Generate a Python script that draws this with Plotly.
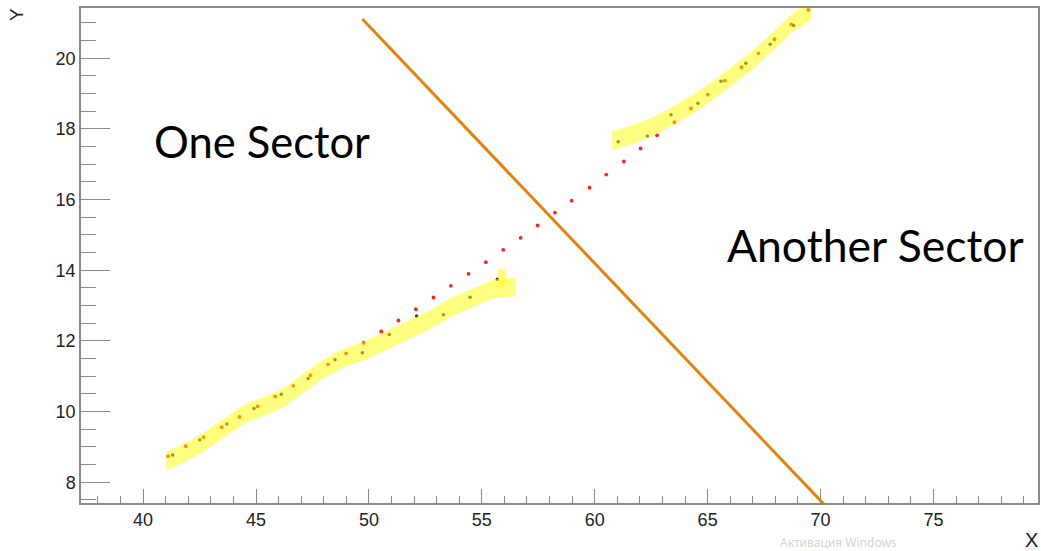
import plotly.graph_objects as go

# Extrapolated track points (red) between the two sectors
track_x = [41.11, 41.89, 42.68, 43.48, 44.27, 45.07, 45.85, 46.65, 47.41, 48.19,
           48.99, 49.77, 50.55, 51.31, 52.08, 52.86, 53.63, 54.41, 55.18, 55.95,
           56.72, 57.47, 58.24, 58.98, 59.77, 60.51, 61.29, 62.03, 62.76, 63.53,
           64.26, 65.01, 65.76, 66.50, 67.25, 67.96, 68.70, 69.46]
track_y = [8.74, 9.02, 9.28, 9.56, 9.85, 10.15, 10.43, 10.73, 11.03, 11.34,
           11.65, 11.95, 12.27, 12.58, 12.90, 13.23, 13.56, 13.90, 14.23, 14.58,
           14.92, 15.27, 15.63, 15.97, 16.34, 16.71, 17.08, 17.45, 17.82, 18.19,
           18.58, 18.97, 19.37, 19.75, 20.14, 20.54, 20.96, 21.37]

# Measured hits (dark)
hit_x = [41.31, 42.51, 43.71, 44.91, 46.12, 47.31, 48.50, 49.71, 50.90, 52.11,
         53.30, 54.48, 55.69, 61.04, 62.33, 63.38, 64.57, 65.59, 66.69, 67.77, 68.81]
hit_y = [8.77, 9.20, 9.65, 10.09, 10.49, 10.94, 11.47, 11.67, 12.18, 12.71,
         12.74, 13.24, 13.75, 17.64, 17.80, 18.40, 18.73, 19.35, 19.86, 20.40, 20.93]

# Highlighted track segments (centre lines) in each sector
seg1_x = [41.03, 41.92, 42.80, 43.69, 44.57, 45.45, 46.34, 47.22, 48.11, 48.99,
          49.77, 50.55, 51.34, 52.52, 53.70, 54.58, 55.47, 56.50]
seg1_y = [8.60, 8.86, 9.19, 9.59, 9.96, 10.17, 10.44, 10.87, 11.26, 11.55,
          11.71, 11.94, 12.18, 12.54, 12.98, 13.21, 13.47, 13.54]
seg2_x = [60.77, 61.65, 62.54, 63.42, 64.31, 65.19, 66.07, 66.96, 67.84, 68.72, 69.61]
seg2_y = [17.665, 17.832, 18.056, 18.353, 18.692, 19.075, 19.499, 19.938, 20.447, 20.985, 21.37]
band_half = 0.265

# Small highlight patch at the end of the first segment
patch_x = [55.72, 56.09]
patch_y = [13.58, 14.04]

# Sector boundary
divider_x = [49.71, 70.39]
divider_y = [21.11, 7.22]

x_range = [37.25, 79.63]
y_range = [7.414, 21.424]

HIGHLIGHT = "rgba(255,255,0,0.5)"
AXIS_GREY = "#8a8a8a"
TICK_FONT = dict(family="Liberation Sans, Arial, sans-serif", size=18, color="#222222")
LABEL_FONT = dict(family="Lato, Noto Sans, sans-serif", size=43.5, color="#000000")


def band(xs, ys, half):
    bx = list(xs) + list(xs[::-1])
    by = [v + half for v in ys] + [v - half for v in ys[::-1]]
    return bx, by


fig = go.Figure()

fig.add_trace(go.Scatter(
    x=track_x, y=track_y, mode="markers",
    marker=dict(size=3.8, color="#ff2020", line=dict(width=0)),
    hoverinfo="skip"))
fig.add_trace(go.Scatter(
    x=hit_x, y=hit_y, mode="markers",
    marker=dict(size=3.5, color="#3a3a3a", line=dict(width=0)),
    hoverinfo="skip"))

for sx, sy in ((seg1_x, seg1_y), (seg2_x, seg2_y)):
    bx, by = band(sx, sy, band_half)
    fig.add_trace(go.Scatter(
        x=bx, y=by, mode="lines", fill="toself",
        fillcolor=HIGHLIGHT, line=dict(width=0),
        hoverinfo="skip"))

fig.add_shape(type="rect", xref="x", yref="y",
              x0=patch_x[0], x1=patch_x[1], y0=patch_y[0], y1=patch_y[1],
              fillcolor=HIGHLIGHT, line=dict(width=0), layer="above")

fig.add_shape(type="line", xref="x", yref="y",
              x0=divider_x[0], y0=divider_y[0], x1=divider_x[1], y1=divider_y[1],
              line=dict(color="#e5820f", width=3), layer="above")

fig.add_annotation(x=40.40, y=17.66, xref="x", yref="y", text="One Sector",
                   showarrow=False, xanchor="left", yanchor="middle", font=LABEL_FONT)
fig.add_annotation(x=65.76, y=14.74, xref="x", yref="y", text="Another Sector",
                   showarrow=False, xanchor="left", yanchor="middle",
                   font=dict(LABEL_FONT, size=44.5))

fig.add_annotation(x=-0.0667, y=0.986, xref="paper", yref="paper", text="Y",
                   textangle=-90, showarrow=False, xanchor="center", yanchor="middle",
                   font=dict(family="Liberation Sans, Arial, sans-serif", size=19, color="#222222"))
fig.add_annotation(x=0.9937, y=-0.0747, xref="paper", yref="paper", text="X",
                   showarrow=False, xanchor="center", yanchor="middle",
                   font=dict(family="Liberation Sans, Arial, sans-serif", size=20, color="#222222"))
fig.add_annotation(x=0.792, y=-0.079, xref="paper", yref="paper", text="Активация Windows",
                   showarrow=False, xanchor="center", yanchor="middle",
                   font=dict(family="Noto Sans, sans-serif", size=12, color="#d4d4d4"))

axis_common = dict(
    showgrid=False, zeroline=False, showline=True, linecolor=AXIS_GREY, linewidth=1.5,
    mirror=True, ticks="inside", tickcolor=AXIS_GREY, tickwidth=1.3,
    tickfont=TICK_FONT,
)

fig.update_xaxes(range=x_range, tick0=0, dtick=5, ticklen=14,
                 minor=dict(dtick=1, ticklen=7, ticks="inside", tickcolor=AXIS_GREY, tickwidth=1.3),
                 **axis_common)
fig.update_yaxes(range=y_range, tick0=0, dtick=2, ticklen=29,
                 minor=dict(dtick=0.5, ticklen=15, ticks="inside", tickcolor=AXIS_GREY, tickwidth=1.3),
                 **axis_common)

fig.update_layout(
    width=1041, height=551,
    margin=dict(l=81, r=1, t=8, b=48),
    paper_bgcolor="white", plot_bgcolor="white",
    showlegend=False,
)

fig.write_html("out.html")
